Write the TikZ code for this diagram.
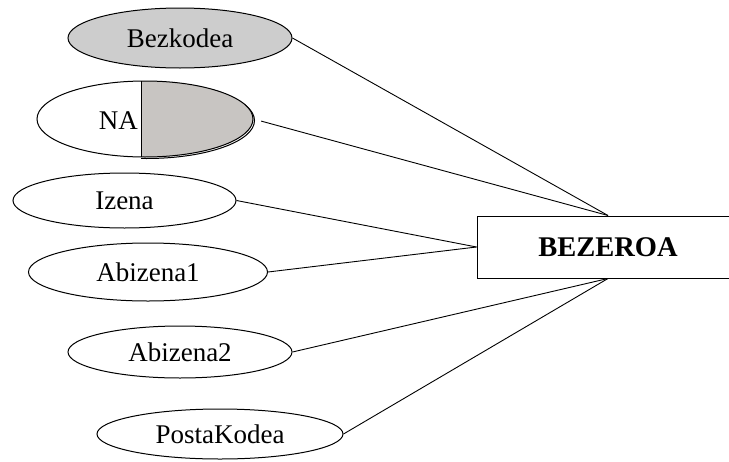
\documentclass[tikz,border=0pt]{standalone}
\usepackage{fontspec}
\setmainfont{Liberation Serif}
\usetikzlibrary{shapes.geometric}
\definecolor{keygray}{RGB}{205,205,205}
\definecolor{partgray}{RGB}{200,197,194}
\begin{document}
\begin{tikzpicture}[x=1pt,y=-1pt,
  attr/.style={draw, ellipse, line width=1pt, inner sep=0pt, font=\fontsize{27}{30}\selectfont},
  conn/.style={line width=0.9pt},
  entity/.style={draw, rectangle, line width=1pt, inner sep=0pt, minimum width=262pt, minimum height=62pt, font=\bfseries\fontsize{28.5}{30}\selectfont}]
\useasboundingbox (0,0) rectangle (729,461);
\clip (0,0) rectangle (729,461);
\fill[white] (0,0) rectangle (729,461);

% entity
\node[entity] (bez) at (608,247) {BEZEROA};

% attributes
\node[attr, fill=keygray, minimum width=224pt, minimum height=60pt] (bk) at (180,38) {Bezkodea};
\node[attr, minimum width=223pt, minimum height=55pt] (iz) at (124.5,200.5) {Izena};
\node[attr, minimum width=239pt, minimum height=58pt] (ab1) at (148,272) {Abizena1};
\node[attr, minimum width=224pt, minimum height=52pt] (ab2) at (180,352) {Abizena2};
\node[attr, minimum width=246pt, minimum height=50pt] (pk) at (220,434) {PostaKodea};

% partial key attribute
\begin{scope}
  \clip (141,60) rectangle (270,170);
  \draw[line width=1pt] (146.5,120.5) ellipse [x radius=108, y radius=38];
  \fill[partgray] (145,119) ellipse [x radius=108, y radius=38];
\end{scope}
\node[attr, minimum width=216pt, minimum height=76pt] (na) at (145,119) {};
\draw[line width=1pt] (141,81) -- (141,157);
\node[font=\fontsize{27}{30}\selectfont, anchor=east, inner sep=0pt] (natext) at (138,121) {NA};

% connectors
\draw[conn] (bk.east) -- (bez.north);
\draw[conn, shorten <=8pt] (na.east) -- (bez.north);
\draw[conn] (iz.east) -- (bez.west);
\draw[conn] (ab1.east) -- (bez.west);
\draw[conn] (ab2.east) -- (bez.south);
\draw[conn] (pk.east) -- (bez.south);
\end{tikzpicture}
\end{document}
